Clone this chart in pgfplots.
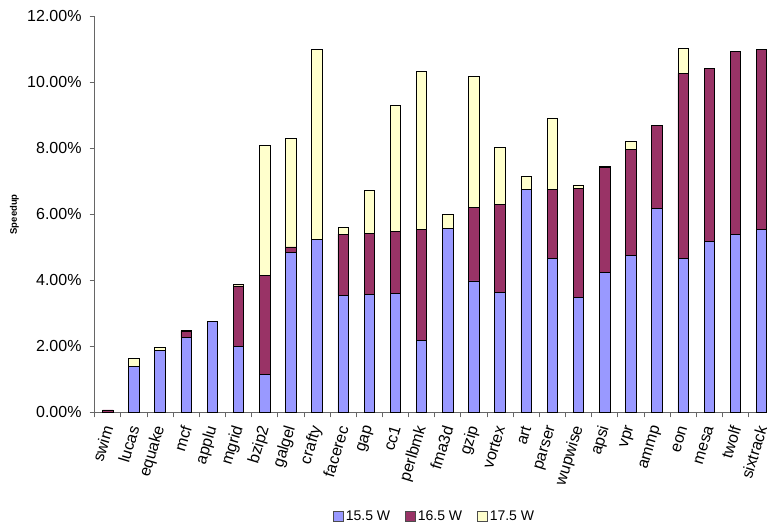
\documentclass[border=0pt]{standalone}
\usepackage{pgfplots}
\pgfplotsset{compat=1.18}
\usepackage{pgfplotstable}
\usepackage{fontspec}
\setmainfont{Liberation Sans}

\definecolor{wlow}{HTML}{9999FF}
\definecolor{wmid}{HTML}{993366}
\definecolor{whigh}{HTML}{FFFFCC}

% Speedup (%) per benchmark: base at 15.5 W, then the extra gained at 16.5 W and 17.5 W
\pgfplotstableread{
name     x  low   mid   high
swim     0  0.00  0.07  0.00
lucas    1  1.38  0.00  0.24
equake   2  1.87  0.00  0.10
mcf      3  2.27  0.19  0.03
applu    4  2.74  0.01  0.00
mgrid    5  1.99  1.84  0.05
bzip2    6  1.16  2.99  3.93
galgel   7  4.84  0.17  3.30
crafty   8  5.24  0.00  5.75
facerec  9  3.54  1.86  0.19
gap      10 3.58  1.85  1.28
cc1      11 3.60  1.87  3.82
perlbmk  12 2.17  3.38  4.78
fma3d    13 5.58  0.00  0.41
gzip     14 3.98  2.24  3.96
vortex   15 3.63  2.68  1.71
art      16 6.75  0.00  0.39
parser   17 4.66  2.10  2.16
wupwise  18 3.47  3.31  0.11
apsi     19 4.23  3.19  0.03
vpr      20 4.75  3.21  0.25
ammp     21 6.18  2.51  0.00
eon      22 4.66  5.61  0.75
mesa     23 5.19  5.22  0.00
twolf    24 5.39  5.54  0.00
sixtrack 25 5.55  5.44  0.00
}\speedup

\begin{document}
\begin{tikzpicture}
\begin{axis}[
  at={(94.7pt,112.7pt)}, anchor=south west,
  scale only axis, width=680pt, height=396pt,
  ybar stacked, bar width=10.5pt,
  xmin=-0.5, xmax=25.5, ymin=0, ymax=12,
  axis lines*=left,
  axis line style={draw=gray!80!black, line width=0.8pt},
  tick style={draw=gray!80!black, line width=0.8pt},
  tick align=outside,
  major tick length=5pt, minor tick length=5pt,
  xtick={0,...,25},
  xticklabels from table={\speedup}{name},
  major x tick style={draw=none},
  minor xtick={-0.5,0.5,...,25.5},
  ytick={0,2,...,12},
  scaled y ticks=false,
  /pgf/number format/assume math mode=true,
  yticklabel={\pgfmathprintnumber[fixed,fixed zerofill,precision=2]{\tick}\%},
  ticklabel style={font=\fontsize{16}{18}\selectfont},
  xticklabel style={xshift=1pt, yshift=-7pt, rotate=73, anchor=east, inner sep=2pt},
  yticklabel style={inner sep=2pt, xshift=-6pt},
  ylabel={Speedup},
  ylabel style={font=\bfseries\fontsize{9.5}{11}\selectfont,
    at={(axis description cs:-0.118,0.5)}, anchor=center},
  legend columns=-1,
  legend style={at={(0.5,-0.262)}, anchor=center, draw=none,
    font=\fontsize{14}{16}\selectfont,
    /tikz/every even column/.append style={column sep=13pt}},
  legend image code/.code={
    \draw[#1, draw=gray!60!black, line width=0.6pt] (0pt,-5pt) rectangle (10pt,5pt);},
  every axis plot/.append style={draw=black, line width=0.8pt},
]
\addplot[fill=wlow]  table[x=x, y=low]  {\speedup};
\addplot[fill=wmid]  table[x=x, y=mid]  {\speedup};
\addplot[fill=whigh] table[x=x, y=high] {\speedup};
\legend{15.5 W, 16.5 W, 17.5 W}
\end{axis}
\pgfresetboundingbox
\path[use as bounding box] (0pt,0pt) rectangle (767pt,525pt);
\end{tikzpicture}
\end{document}
